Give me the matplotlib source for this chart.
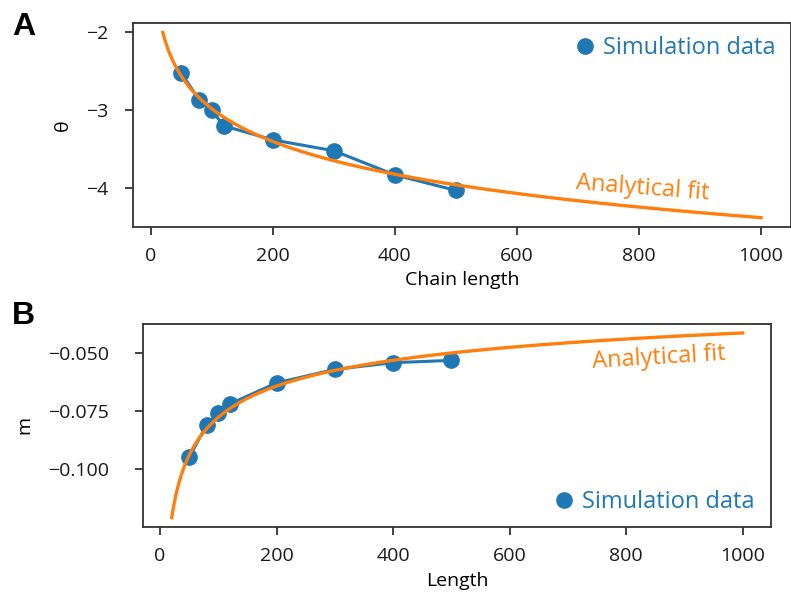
import numpy as np
import matplotlib.pyplot as plt

plt.rcParams['font.family'] = ['Open Sans', 'DejaVu Sans']

# Simulation results
chain_length = [50, 80, 100, 120, 200, 300, 400, 500]
theta_sim = [-2.52, -2.87, -3.00, -3.20, -3.38, -3.52, -3.83, -4.03]
m_sim = [-0.0951, -0.0810, -0.0757, -0.0719, -0.0628, -0.0569, -0.0540, -0.0530]

# Analytical fit parameters: theta = a + b*ln(N), m = -c * N**p
theta_a, theta_b = -0.177, -0.6084
m_c, m_p = 0.2779, -0.2767
fit_range = (20, 1000)

blue = "#1f77b4"
orange = "#ff7f0e"

N = np.linspace(fit_range[0], fit_range[1], 500)
theta_fit = theta_a + theta_b * np.log(N)
m_fit = -m_c * N ** m_p

fig = plt.figure(figsize=(7.91, 5.94), dpi=100)
ax1 = fig.add_axes([0.168, 0.618, 0.832, 0.343])
ax2 = fig.add_axes([0.181, 0.113, 0.794, 0.342])

for ax in (ax1, ax2):
    for s in ax.spines.values():
        s.set_color("#333333")
        s.set_linewidth(1.3)
    ax.tick_params(labelsize=14, length=5.5, width=1.3, color="#333333",
                   labelcolor="#1a1a1a")
    ax.tick_params(axis="x", pad=9)

# Panel A
ax1.plot(chain_length, theta_sim, "-o", color=blue, lw=2.2, ms=11, label="Simulation data")
ax1.plot(N, theta_fit, color=orange, lw=2.4)
ax1.set_xlabel("Chain length", fontsize=14)
ax1.set_ylabel("θ", fontsize=14)
ax1.xaxis.set_label_coords(0.5, -0.216)
ax1.yaxis.set_label_coords(-0.093, 0.5)
ax1.set_yticks([-2, -3, -4])
ax1.tick_params(axis="y", pad=12)
ax1.text(0.774, 0.19, "Analytical fit", transform=ax1.transAxes, color=orange,
         fontsize=17, rotation=-4.5, ha="center", va="center")
ax1.legend(loc="center right", bbox_to_anchor=(0.977, 0.877), frameon=False,
           fontsize=17, handlelength=0, handletextpad=0.76, borderpad=0,
           borderaxespad=0, labelcolor="linecolor")

# Panel B
ax2.plot(chain_length, m_sim, "-o", color=blue, lw=2.2, ms=11, label="Simulation data")
ax2.plot(N, m_fit, color=orange, lw=2.4)
ax2.set_xlabel("Length", fontsize=14)
ax2.set_ylabel("m", fontsize=14)
ax2.xaxis.set_label_coords(0.5, -0.222)
ax2.yaxis.set_label_coords(-0.175, 0.5)
ax2.set_yticks([-0.05, -0.075, -0.1])
ax2.set_yticklabels(["−0.050", "−0.075", "−0.100"])
ax2.tick_params(axis="y", pad=19)
ax2.text(0.822, 0.833, "Analytical fit", transform=ax2.transAxes, color=orange,
         fontsize=17, rotation=3.5, ha="center", va="center")
ax2.legend(loc="center right", bbox_to_anchor=(0.973, 0.123), frameon=False,
           fontsize=17, handlelength=0, handletextpad=0.76, borderpad=0,
           borderaxespad=0, labelcolor="linecolor")

fig.text(0.015, 0.955, "A", fontsize=23, fontweight="bold", va="center",
         family="Liberation Sans")
fig.text(0.015, 0.468, "B", fontsize=23, fontweight="bold", va="center",
         family="Liberation Sans")

fig.savefig("out.png", dpi=100)
